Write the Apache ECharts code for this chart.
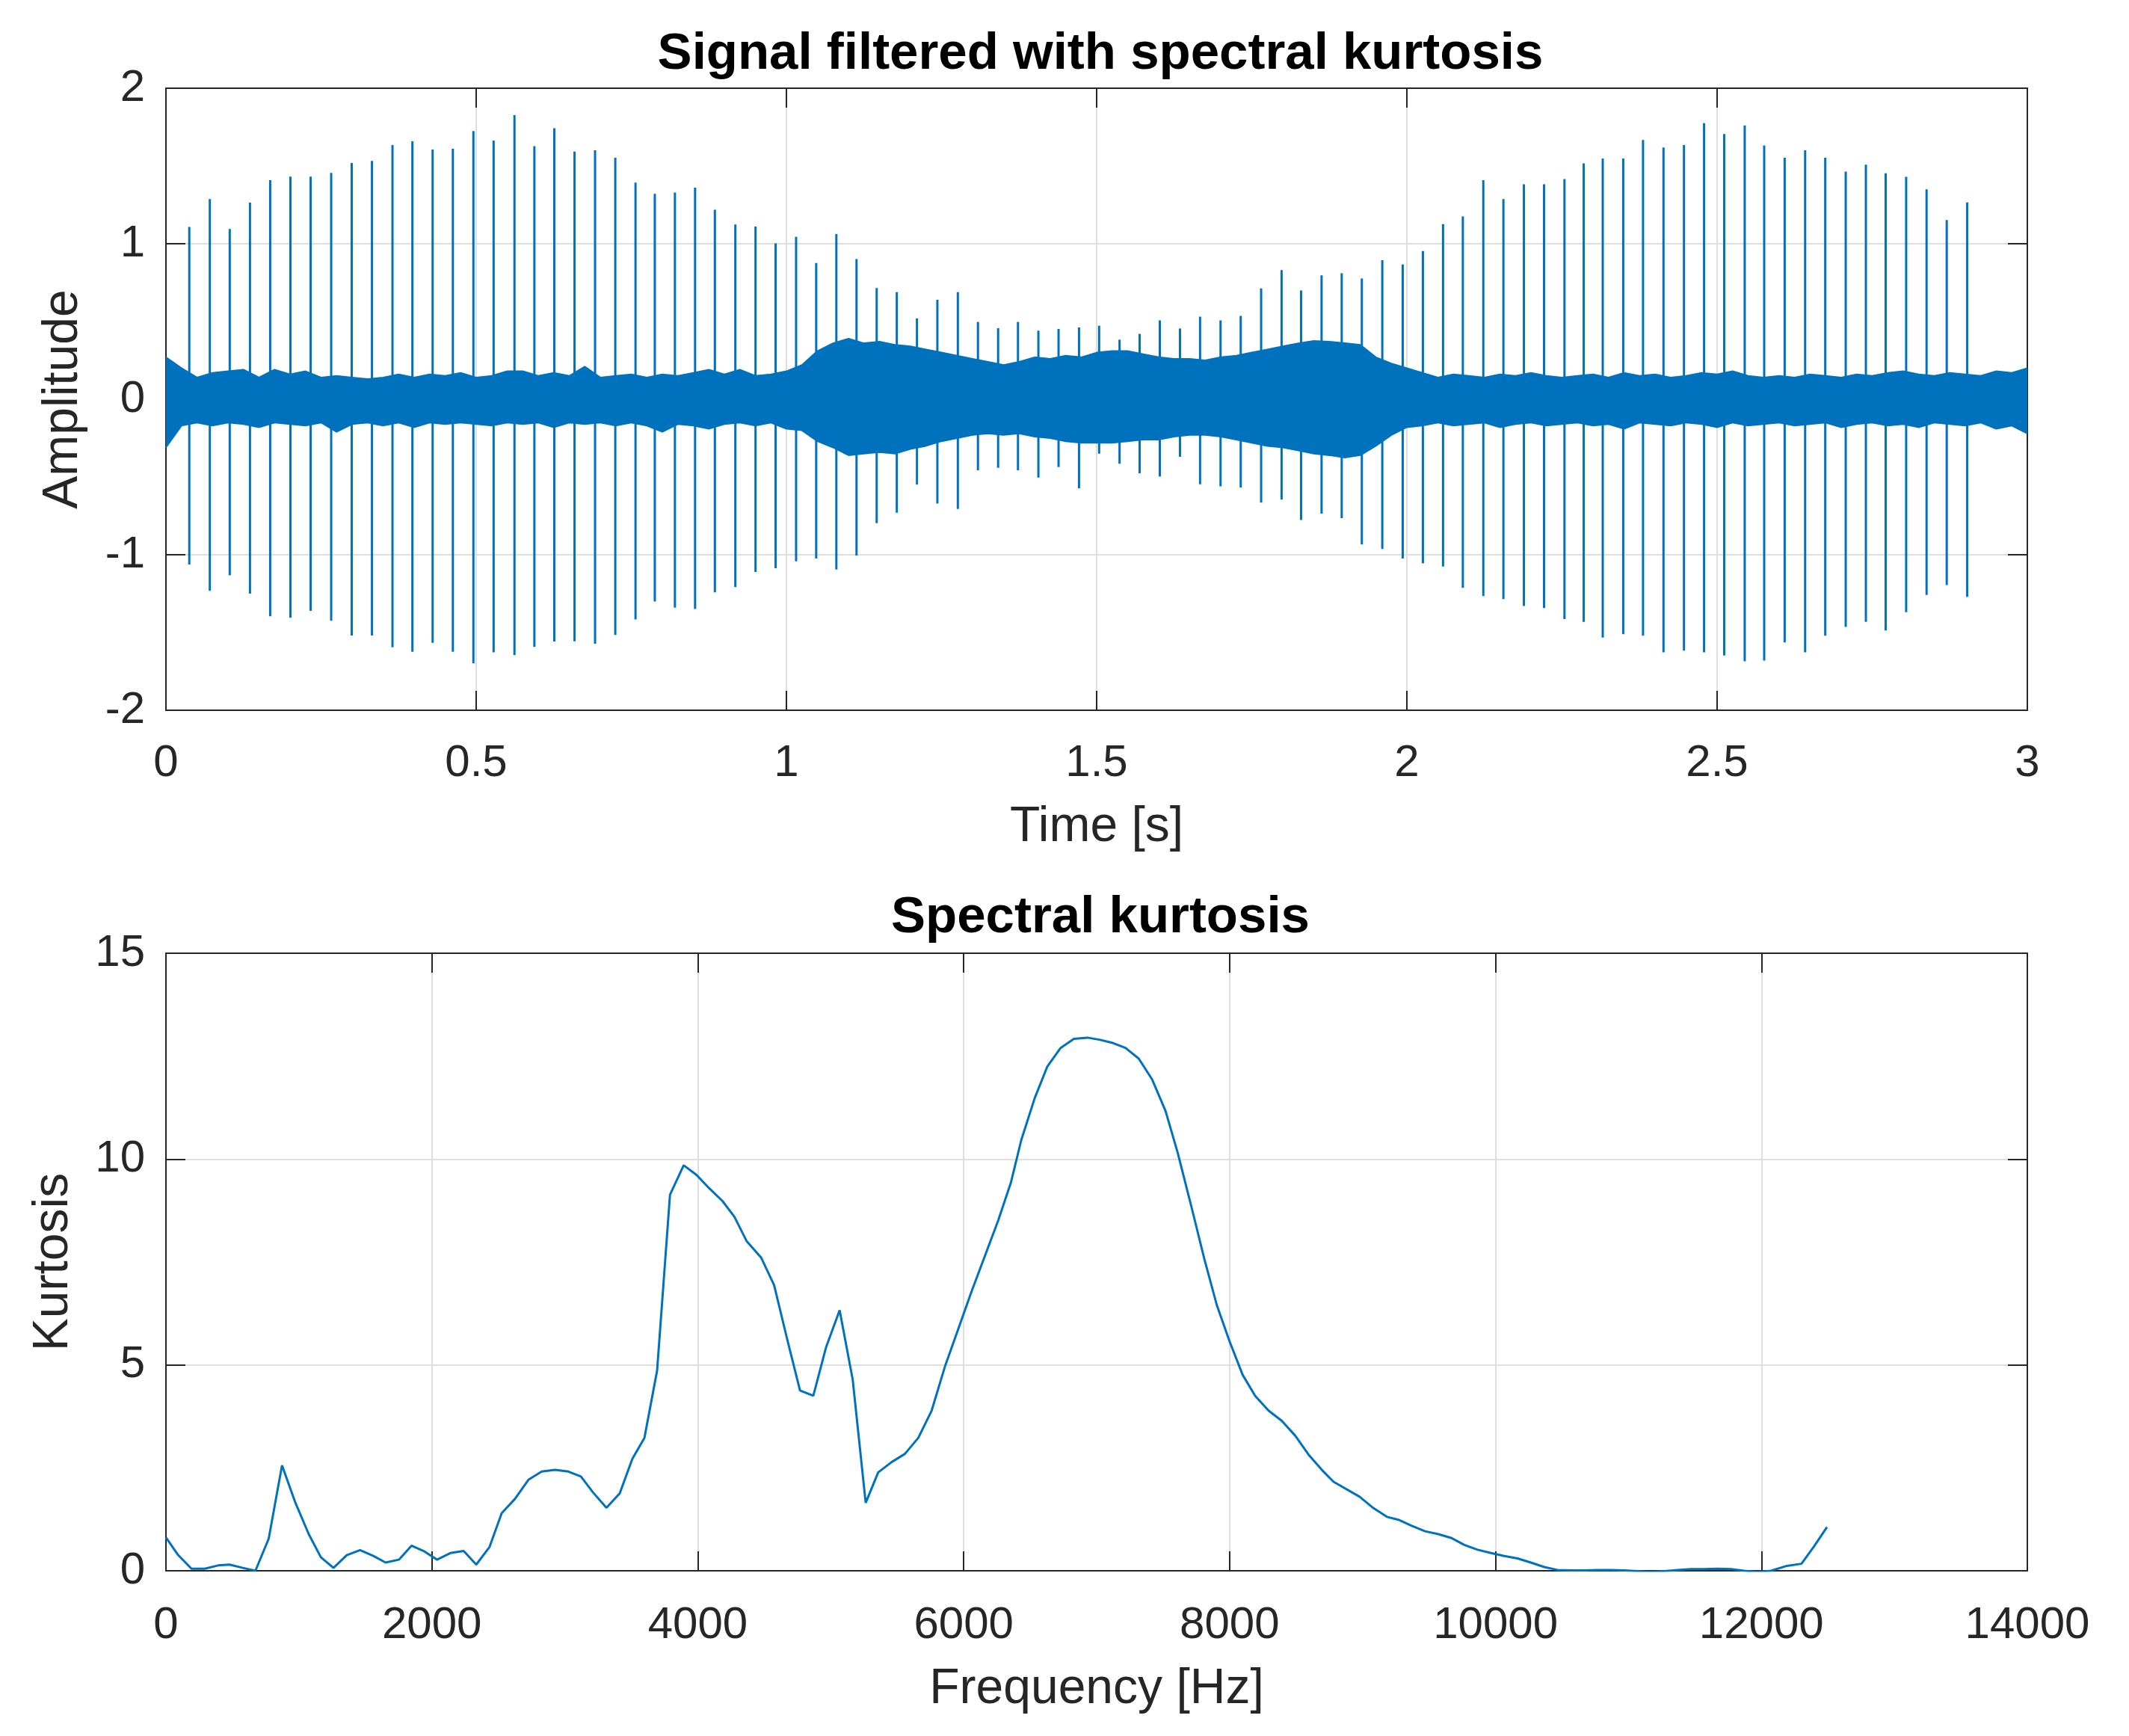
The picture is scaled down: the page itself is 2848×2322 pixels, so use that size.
<!DOCTYPE html>
<html>
<head>
<meta charset="utf-8">
<script src="https://cdn.jsdelivr.net/npm/echarts@6.0.0/dist/echarts.min.js"></script>
<style>
  html, body { margin: 0; padding: 0; background: #fff; }
  #main { width: 2848px; height: 2322px; }
</style>
</head>
<body>
<div id="main"></div>
<script>
// ---- top plot: filtered signal ----
// noise band envelope, sampled every 0.025 s from 0 to 3 s
const envTime = [];
for (let i = 0; i <= 120; i++) envTime.push(+(i * 0.025).toFixed(3));
const envUpper = [
  0.27, 0.20, 0.14, 0.17, 0.18, 0.19, 0.14, 0.19, 0.16, 0.18,
  0.14, 0.15, 0.14, 0.13, 0.14, 0.16, 0.14, 0.16, 0.15, 0.17,
  0.14, 0.15, 0.18, 0.18, 0.15, 0.17, 0.15, 0.21, 0.14, 0.15,
  0.16, 0.14, 0.16, 0.15, 0.17, 0.19, 0.16, 0.19, 0.15, 0.16,
  0.18, 0.22, 0.31, 0.36, 0.39, 0.36, 0.37, 0.35, 0.34, 0.32,
  0.30, 0.28, 0.26, 0.24, 0.22, 0.24, 0.27, 0.26, 0.28, 0.27,
  0.30, 0.31, 0.31, 0.29, 0.27, 0.26, 0.26, 0.25, 0.27, 0.28,
  0.30, 0.32, 0.34, 0.36, 0.375, 0.37, 0.36, 0.35, 0.27, 0.23,
  0.20, 0.17, 0.14, 0.16, 0.15, 0.14, 0.16, 0.15, 0.17, 0.15,
  0.14, 0.15, 0.16, 0.14, 0.17, 0.15, 0.16, 0.14, 0.15, 0.17,
  0.16, 0.18, 0.15, 0.14, 0.15, 0.14, 0.16, 0.15, 0.14, 0.16,
  0.15, 0.17, 0.18, 0.16, 0.15, 0.17, 0.16, 0.15, 0.18, 0.17,
  0.20
];
const envLower = [
  -0.31, -0.17, -0.15, -0.17, -0.15, -0.16, -0.18, -0.15, -0.16, -0.17,
  -0.15, -0.21, -0.16, -0.15, -0.17, -0.15, -0.18, -0.15, -0.16, -0.15,
  -0.16, -0.17, -0.15, -0.16, -0.15, -0.18, -0.15, -0.16, -0.15, -0.17,
  -0.15, -0.17, -0.21, -0.16, -0.17, -0.19, -0.16, -0.15, -0.17, -0.15,
  -0.19, -0.20, -0.27, -0.31, -0.36, -0.35, -0.34, -0.35, -0.32, -0.30,
  -0.27, -0.25, -0.23, -0.22, -0.23, -0.22, -0.24, -0.25, -0.27, -0.28,
  -0.28, -0.28, -0.27, -0.26, -0.26, -0.24, -0.23, -0.23, -0.24, -0.26,
  -0.28, -0.30, -0.31, -0.33, -0.35, -0.36, -0.375, -0.36, -0.30, -0.23,
  -0.18, -0.17, -0.15, -0.17, -0.16, -0.15, -0.18, -0.16, -0.15, -0.17,
  -0.16, -0.15, -0.17, -0.16, -0.19, -0.15, -0.16, -0.17, -0.15, -0.16,
  -0.18, -0.15, -0.17, -0.16, -0.15, -0.17, -0.16, -0.15, -0.18, -0.16,
  -0.15, -0.17, -0.16, -0.18, -0.15, -0.16, -0.17, -0.15, -0.19, -0.17,
  -0.22
];

// impulse spikes: time, positive peak, negative peak
const spikeTime = [
  0.0376, 0.0707, 0.1028, 0.1354, 0.168, 0.2006, 0.2332, 0.2663, 0.2994, 0.332,
  0.3651, 0.3972, 0.4298, 0.4624, 0.4955, 0.5281, 0.5617, 0.5938, 0.6259, 0.6585,
  0.6916, 0.7242, 0.7568, 0.7879, 0.8203, 0.8528, 0.8847, 0.9177, 0.9502, 0.9826,
  1.0156, 1.048, 1.0805, 1.113, 1.1455, 1.1779, 1.2104, 1.2433, 1.2763, 1.3087,
  1.3412, 1.3732, 1.4061, 1.4386, 1.4716, 1.504, 1.5369, 1.5693, 1.6018, 1.6343,
  1.6667, 1.6997, 1.7322, 1.7651, 1.7981, 1.8295, 1.8625, 1.895, 1.9274, 1.9604,
  1.9933, 2.0258, 2.0583, 2.0902, 2.1232, 2.1556, 2.1886, 2.2211, 2.254, 2.285,
  2.3157, 2.3487, 2.3806, 2.4136, 2.4466, 2.479, 2.5115, 2.5445, 2.5759, 2.6089,
  2.6419, 2.6743, 2.7073, 2.7398, 2.7717, 2.8047, 2.8376, 2.8701, 2.9031
];
const spikeUp = [
  1.108, 1.287, 1.095, 1.264, 1.409, 1.432, 1.432, 1.456, 1.519, 1.532,
  1.635, 1.659, 1.606, 1.611, 1.725, 1.664, 1.827, 1.627, 1.743, 1.593,
  1.601, 1.553, 1.393, 1.321, 1.329, 1.361, 1.219, 1.124, 1.111, 1.003,
  1.045, 0.876, 1.063, 0.902, 0.715, 0.689, 0.520, 0.639, 0.689, 0.497,
  0.457, 0.497, 0.441, 0.452, 0.462, 0.473, 0.383, 0.420, 0.507, 0.455,
  0.531, 0.507, 0.536, 0.713, 0.831, 0.700, 0.797, 0.810, 0.776, 0.894,
  0.866, 0.953, 1.126, 1.176, 1.409, 1.287, 1.382, 1.382, 1.416, 1.517,
  1.548, 1.548, 1.667, 1.619, 1.635, 1.775, 1.706, 1.761, 1.632, 1.553,
  1.601, 1.553, 1.464, 1.509, 1.453, 1.430, 1.350, 1.153, 1.266
];
const spikeDown = [
  -1.063, -1.232, -1.132, -1.250, -1.395, -1.405, -1.361, -1.424, -1.519, -1.519,
  -1.595, -1.624, -1.566, -1.624, -1.698, -1.627, -1.645, -1.592, -1.558, -1.556,
  -1.572, -1.516, -1.416, -1.300, -1.340, -1.348, -1.242, -1.208, -1.111, -1.087,
  -1.042, -1.024, -1.095, -1.005, -0.797, -0.729, -0.549, -0.671, -0.705, -0.457,
  -0.441, -0.457, -0.504, -0.436, -0.573, -0.350, -0.415, -0.476, -0.497, -0.370,
  -0.547, -0.560, -0.568, -0.665, -0.645, -0.776, -0.736, -0.765, -0.934, -0.963,
  -1.024, -1.055, -1.076, -1.213, -1.266, -1.285, -1.329, -1.342, -1.414, -1.432,
  -1.532, -1.511, -1.521, -1.627, -1.616, -1.627, -1.648, -1.685, -1.680, -1.564,
  -1.627, -1.521, -1.464, -1.432, -1.487, -1.369, -1.258, -1.195, -1.271
];

// ---- bottom plot: spectral kurtosis ----
const freqHz = [
  0, 92, 192, 292, 392, 478, 578, 673, 773, 873,
  974, 1074, 1165, 1260, 1360, 1460, 1560, 1652, 1752, 1847,
  1938, 2039, 2139, 2239, 2334, 2434, 2525, 2626, 2726, 2826,
  2926, 3027, 3121, 3213, 3313, 3413, 3508, 3599, 3694, 3791,
  3894, 3992, 4086, 4186, 4275, 4367, 4476, 4574, 4669, 4769,
  4869, 4964, 5067, 5165, 5263, 5357, 5458, 5558, 5659, 5759,
  5859, 5960, 6060, 6161, 6261, 6356, 6433, 6534, 6628, 6729,
  6829, 6930, 7021, 7122, 7217, 7317, 7418, 7518, 7610, 7710,
  7811, 7905, 8000, 8098, 8192, 8293, 8393, 8494, 8594, 8694,
  8782, 8977, 9083, 9183, 9269, 9370, 9470, 9570, 9665, 9765,
  9865, 9966, 10066, 10166, 10266, 10367, 10467, 10567, 10668, 10768,
  10868, 10968, 11069, 11169, 11269, 11370, 11470, 11570, 11670, 11771,
  11871, 11971, 12072, 12192, 12301, 12393, 12493
];
const kurtosis = [
  0.81, 0.38, 0.05, 0.05, 0.13, 0.15, 0.07, 0.00, 0.78, 2.56,
  1.65, 0.89, 0.33, 0.07, 0.38, 0.50, 0.36, 0.20, 0.27, 0.61,
  0.48, 0.27, 0.43, 0.48, 0.15, 0.58, 1.40, 1.75, 2.21, 2.41,
  2.45, 2.41, 2.29, 1.90, 1.53, 1.88, 2.72, 3.23, 4.86, 9.13,
  9.85, 9.61, 9.29, 8.98, 8.60, 8.01, 7.61, 6.94, 5.67, 4.38,
  4.25, 5.42, 6.33, 4.65, 1.65, 2.39, 2.64, 2.84, 3.23, 3.89,
  4.96, 5.88, 6.79, 7.66, 8.52, 9.44, 10.46, 11.48, 12.24, 12.70,
  12.92, 12.95, 12.90, 12.82, 12.70, 12.44, 11.93, 11.17, 10.15, 8.88,
  7.56, 6.44, 5.57, 4.76, 4.25, 3.89, 3.64, 3.28, 2.82, 2.45,
  2.16, 1.80, 1.52, 1.31, 1.24, 1.09, 0.96, 0.89, 0.80, 0.63,
  0.51, 0.43, 0.36, 0.30, 0.20, 0.09, 0.02, 0.01, 0.01, 0.02,
  0.02, 0.01, -0.01, -0.03, -0.01, 0.02, 0.04, 0.04, 0.05, 0.04,
  0.00, -0.03, 0.00, 0.12, 0.17, 0.58, 1.06
];

const BLUE = '#0072BD';
const INK = '#262626';
const FONT = 'Liberation Sans, Arial, Helvetica, sans-serif';

function baseAxis(extra) {
  return Object.assign({
    type: 'value',
    axisLine: { show: true, onZero: false, lineStyle: { color: INK, width: 2 } },
    axisTick: { show: true, inside: true, length: 26, lineStyle: { color: INK, width: 2 } },
    axisLabel: { show: true, color: INK, fontSize: 60, fontFamily: FONT, formatter: v => String(v) },
    splitLine: { show: false },
    nameTextStyle: { color: INK, fontSize: 66, fontFamily: FONT }
  }, extra);
}
function tickLabels(margin) {
  return { color: INK, fontSize: 60, fontFamily: FONT, margin: margin, formatter: v => String(v) };
}
const grid = { show: true, lineStyle: { color: '#dfdfdf', width: 2 } };

const chart = echarts.init(document.getElementById('main'), null, { renderer: 'canvas' });
chart.setOption({
  animation: false,
  backgroundColor: '#ffffff',
  title: [
    { text: 'Signal filtered with spectral kurtosis', left: 1467, top: 33, textAlign: 'center',
      textStyle: { fontSize: 69, fontWeight: 'bold', color: '#000', fontFamily: FONT } },
    { text: 'Spectral kurtosis', left: 1467, top: 1188, textAlign: 'center',
      textStyle: { fontSize: 69, fontWeight: 'bold', color: '#000', fontFamily: FONT } }
  ],
  grid: [
    { left: 222, top: 118, width: 2490, height: 832, outerBoundsMode: 'none' },
    { left: 222, top: 1275, width: 2490, height: 826, outerBoundsMode: 'none' }
  ],
  xAxis: [
    baseAxis({ gridIndex: 0, position: 'bottom', min: 0, max: 3, interval: 0.5,
      name: 'Time [s]', nameLocation: 'middle', nameGap: 124,
      axisLabel: tickLabels(41), splitLine: grid }),
    baseAxis({ gridIndex: 0, position: 'top', min: 0, max: 3, interval: 0.5, axisLabel: { show: false } }),
    baseAxis({ gridIndex: 1, position: 'bottom', min: 0, max: 14000, interval: 2000,
      name: 'Frequency [Hz]', nameLocation: 'middle', nameGap: 126,
      axisLabel: tickLabels(43), splitLine: grid }),
    baseAxis({ gridIndex: 1, position: 'top', min: 0, max: 14000, interval: 2000, axisLabel: { show: false } })
  ],
  yAxis: [
    baseAxis({ gridIndex: 0, position: 'left', min: -2, max: 2, interval: 1,
      name: 'Amplitude', nameLocation: 'middle', nameGap: 104,
      axisLabel: tickLabels(28), splitLine: grid }),
    baseAxis({ gridIndex: 0, position: 'right', min: -2, max: 2, interval: 1, axisLabel: { show: false } }),
    baseAxis({ gridIndex: 1, position: 'left', min: 0, max: 15, interval: 5,
      name: 'Kurtosis', nameLocation: 'middle', nameGap: 117,
      axisLabel: tickLabels(28), splitLine: grid }),
    baseAxis({ gridIndex: 1, position: 'right', min: 0, max: 15, interval: 5, axisLabel: { show: false } })
  ],
  series: [
    {
      name: 'noise upper', type: 'line', xAxisIndex: 0, yAxisIndex: 0,
      data: envTime.map((t, i) => [t, envUpper[i]]),
      showSymbol: false, lineStyle: { color: BLUE, width: 2 },
      areaStyle: { color: BLUE, opacity: 1, origin: 'auto' }, z: 3
    },
    {
      name: 'noise lower', type: 'line', xAxisIndex: 0, yAxisIndex: 0,
      data: envTime.map((t, i) => [t, envLower[i]]),
      showSymbol: false, lineStyle: { color: BLUE, width: 2 },
      areaStyle: { color: BLUE, opacity: 1, origin: 'auto' }, z: 3
    },
    {
      name: 'impulses', type: 'custom', xAxisIndex: 0, yAxisIndex: 0,
      data: spikeTime.map((t, i) => [t, spikeUp[i], spikeDown[i]]),
      encode: { x: 0, y: [1, 2] },
      renderItem: (params, api) => {
        const a = api.coord([api.value(0), api.value(1)]);
        const b = api.coord([api.value(0), api.value(2)]);
        return { type: 'line', shape: { x1: a[0], y1: a[1], x2: b[0], y2: b[1] },
          style: { stroke: BLUE, lineWidth: 3 } };
      },
      z: 4
    },
    {
      name: 'Spectral kurtosis', type: 'line', xAxisIndex: 2, yAxisIndex: 2,
      data: freqHz.map((f, i) => [f, kurtosis[i]]),
      showSymbol: false, lineStyle: { color: BLUE, width: 3 }, z: 3
    }
  ]
});
</script>
</body>
</html>
